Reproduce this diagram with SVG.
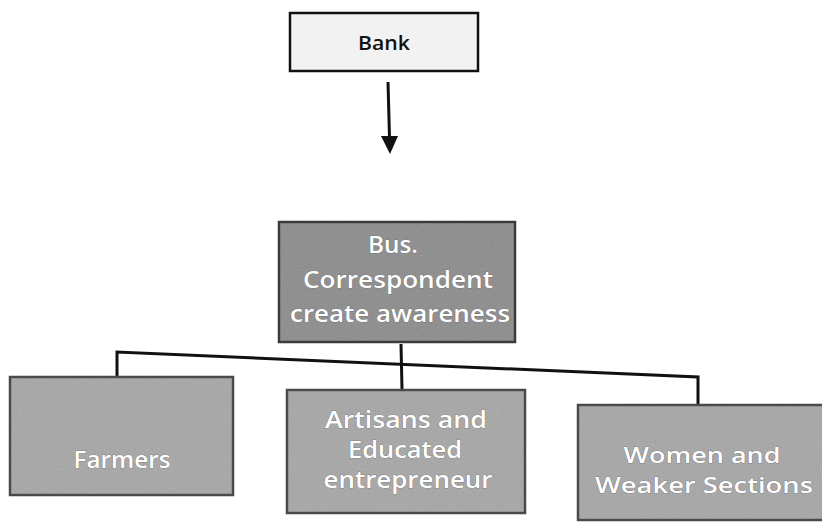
<svg xmlns="http://www.w3.org/2000/svg" width="822" height="529" viewBox="0 0 822 529">
<style>
  .dark { fill: #8b8b8b; stroke: #3a3a3a; stroke-width: 2.5; }
  .mid { fill: #a6a6a6; stroke: #4a4a4a; stroke-width: 2.5; }
  .light { fill: #f2f2f2; stroke: #111; stroke-width: 2.5; }
  .grain { filter: url(#grain); opacity: 0.22; }
  .wt { font-family: "Open Sans", "Noto Sans", sans-serif; font-size: 24px; font-weight: 600; fill: #ffffff; text-anchor: middle; stroke: #5a5a5a; stroke-width: 0.5; paint-order: stroke; }
  .sm { font-size: 22px; }
  .bt { font-family: "Open Sans", "Noto Sans", sans-serif; font-size: 20px; font-weight: 600; fill: #111; text-anchor: middle; }
  .ln { stroke: #111; stroke-width: 3; fill: none; }
</style>
<defs>
  <filter id="grain" x="0" y="0" width="100%" height="100%">
    <feTurbulence type="fractalNoise" baseFrequency="0.85" numOctaves="2" seed="5" result="n"/>
    <feColorMatrix in="n" type="saturate" values="0" result="g"/>
    <feComposite in="g" in2="SourceAlpha" operator="in"/>
  </filter>
</defs>

<g id="bank">
  <rect class="light" x="290" y="13" width="188" height="58"/>
  <text class="bt" x="384" y="50" textLength="52" lengthAdjust="spacingAndGlyphs">Bank</text>
</g>

<g id="connectors">
  <line class="ln" x1="388" y1="82" x2="389.5" y2="138"/>
  <path d="M381,136 L398,136 L390,154 z" fill="#111"/>
  <line class="ln" x1="401" y1="344" x2="402" y2="389"/>
  <path class="ln" d="M117,376 L117,352 L698,377 L698,404"/>
</g>

<g id="bus">
  <rect class="dark" x="279" y="222" width="236" height="120"/>
  <rect class="grain" x="280" y="223" width="234" height="118"/>
  <text class="wt" x="393" y="253" textLength="50" lengthAdjust="spacingAndGlyphs">Bus.</text>
  <text class="wt" x="398" y="288" textLength="190" lengthAdjust="spacingAndGlyphs">Correspondent</text>
  <text class="wt" x="400" y="322" textLength="220" lengthAdjust="spacingAndGlyphs">create awareness</text>
</g>

<g id="farmers">
  <rect class="mid" x="10" y="377" width="223" height="118"/>
  <rect class="grain" x="11" y="378" width="221" height="116"/>
  <text class="wt" x="122" y="468" textLength="97" lengthAdjust="spacingAndGlyphs">Farmers</text>
</g>

<g id="artisans">
  <rect class="mid" x="287" y="390" width="238" height="123"/>
  <rect class="grain" x="288" y="391" width="236" height="121"/>
  <text class="wt" x="406" y="428" textLength="162" lengthAdjust="spacingAndGlyphs">Artisans and</text>
  <text class="wt" x="405" y="458" textLength="114" lengthAdjust="spacingAndGlyphs">Educated</text>
  <text class="wt" x="408" y="488" textLength="169" lengthAdjust="spacingAndGlyphs">entrepreneur</text>
</g>

<g id="women">
  <rect class="mid" x="578" y="405" width="250" height="115"/>
  <rect class="grain" x="579" y="406" width="248" height="113"/>
  <text class="wt sm" x="702" y="463" textLength="157" lengthAdjust="spacingAndGlyphs">Women and</text>
  <text class="wt sm" x="704" y="493" textLength="218" lengthAdjust="spacingAndGlyphs">Weaker Sections</text>
</g>
</svg>
